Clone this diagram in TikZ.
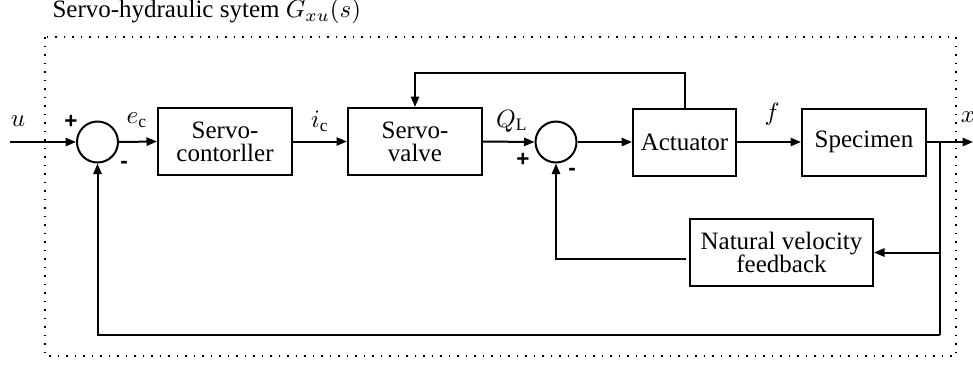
\documentclass[tikz,border=0pt]{standalone}
\usepackage{fontspec}
\setmainfont{Liberation Serif}
\newfontfamily\signfont{Liberation Sans}
\usetikzlibrary{arrows.meta,calc}
\begin{document}
\begin{tikzpicture}[x=0.4pt,y=-0.4pt,
  blk/.style={draw,line width=0.8pt,minimum height=26.8pt,inner sep=0pt,align=center,font=\fontsize{10}{9.2}\selectfont},
  sumc/.style={draw,circle,line width=0.8pt,minimum size=16.4pt,inner sep=0pt},
  conn/.style={line width=0.8pt},
  arr/.style={conn,-{Triangle[length=4.2pt,width=3.3pt]}},
  lbl/.style={font=\fontsize{10}{10}\selectfont,inner sep=0pt},
  sgn/.style={font=\signfont\bfseries\fontsize{9}{9}\selectfont,inner sep=0pt},
  encl/.style={line width=0.6pt,dash pattern=on 0.6pt off 2.8pt}]
\useasboundingbox (0,0) rectangle (973,368);
% title
\node[lbl,anchor=base west] (title) at (52,17.5) {Servo-hydraulic sytem $G_{xu}(s)$};
% enclosure
\draw[encl] (45,37) rectangle (956,356);
% blocks
\node[sumc] (s1) at (97.5,142) {};
\node[blk,minimum width=53.6pt] (sc) at (225,141.5) {Servo-\\contorller};
\node[blk,minimum width=53.6pt] (sv) at (415,141.5) {Servo-\\valve};
\node[sumc] (s2) at (556,142) {};
\node[blk,minimum width=41.2pt] (act) at (684.5,142) {Actuator};
\node[blk,minimum width=49.6pt] (spec) at (864,142) {Specimen};
\node[blk,minimum width=73.2pt] (nvf) at (781.5,252.5) {Natural velocity\\feedback};
% coordinates
\coordinate (in) at (10,142);
\coordinate (out) at (973,142);
\coordinate (br) at (940,142);
\coordinate (bot) at (940,335);
\coordinate (top) at (686,72.7);
% connectors
\draw[arr] (in) -- (s1.west);
\draw[arr] (s1.east) -- (sc.west);
\draw[arr] (sc.east) -- (sv.west);
\draw[arr] (sv.east) -- (s2.west);
\draw[arr] (s2.east) -- (act.west);
\draw[arr] (act.east) -- (spec.west);
\draw[arr] (spec.east) -- (out);
\draw[arr] (act.north) |- (top) -| (sv.north);
\draw[conn] (br) -- (bot);
\draw[arr] (bot) -| (s1.south);
\draw[arr] (940,252.5) -- (nvf.east);
\draw[arr] ($(nvf.west)+(-3,6.5)$) -| (s2.south);
% labels
\node[lbl] (lu) at (18,121) {$u$};
\node[lbl] (lec) at (137,120) {$e_{\mathrm{c}}$};
\node[lbl] (lic) at (320,121) {$i_{\mathrm{c}}$};
\node[lbl] (lql) at (512,121) {$Q_{\mathrm{L}}$};
\node[lbl] (lf) at (772,114) {$f$};
\node[lbl] (lx) at (968,117) {$x$};
\node[sgn] (p1) at (71,122) {+};
\node[sgn] (m1) at (124,165) {-};
\node[sgn] (p2) at (523,160) {+};
\node[sgn] (m2) at (572,172) {-};
\end{tikzpicture}
\end{document}
